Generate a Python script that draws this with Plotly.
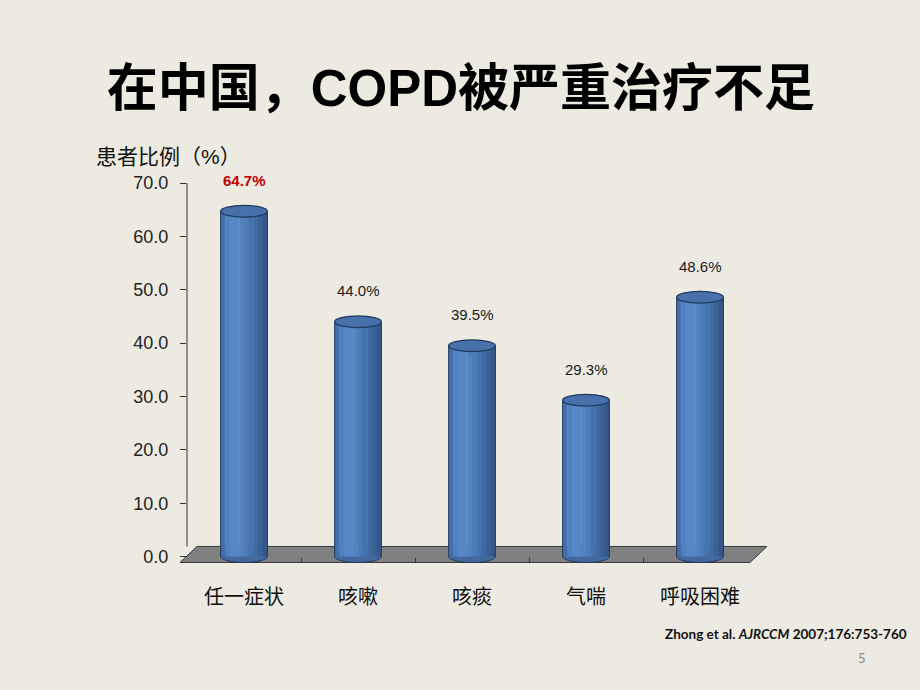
import plotly.graph_objects as go

categories = ["任一症状", "咳嗽", "咳痰", "气喘", "呼吸困难"]
values = [64.7, 44.0, 39.5, 29.3, 48.6]
value_labels = ["64.7%", "44.0%", "39.5%", "29.3%", "48.6%"]
y_ticks = [0, 10, 20, 30, 40, 50, 60, 70]

BG = "#edeae2"
FONT = "Liberation Sans, Noto Sans CJK SC, sans-serif"
EDGE = "#1f3a5f"

bar_w = 0.41
# stripes give the cylinder its shading, left to right
shades = ["#446fa9", "#5080c0", "#5888c8", "#5887c6", "#5483c0", "#4e7cb8",
          "#4773ad", "#4069a0", "#3a6195", "#34588a"]

fig = go.Figure()
sw = bar_w / len(shades)
for k, c in enumerate(shades):
    fig.add_trace(go.Bar(
        x=categories, y=values, width=sw * 1.08, offset=-bar_w / 2 + k * sw,
        marker=dict(color=c, line_width=0), hoverinfo="skip", showlegend=False,
    ))

shapes = []
# floor
shapes.append(dict(type="path", xref="paper", yref="y", layer="below",
                   path="M -0.0123,-1.1 L 0.0175,1.9 L 1.0175,1.9 L 0.9877,-1.1 Z",
                   fillcolor="#808080", line=dict(color="#3a3a3a", width=1)))
# y axis line on the back wall
shapes.append(dict(type="line", xref="paper", yref="y", x0=0, x1=0, y0=1.9, y1=70,
                   line=dict(color="#333333", width=1)))
ry = 1.1
for i, v in enumerate(values):
    shapes.append(dict(type="circle", xref="x", yref="y", layer="below",
                       x0=i - bar_w / 2, x1=i + bar_w / 2, y0=-ry, y1=ry,
                       fillcolor="#44699f", line=dict(color=EDGE, width=1)))
    for side in (-1, 1):
        shapes.append(dict(type="line", xref="x", yref="y",
                           x0=i + side * bar_w / 2, x1=i + side * bar_w / 2, y0=0, y1=v,
                           line=dict(color=EDGE, width=1)))
    shapes.append(dict(type="circle", xref="x", yref="y",
                       x0=i - bar_w / 2, x1=i + bar_w / 2, y0=v - ry, y1=v + ry,
                       fillcolor="#4871ab", line=dict(color=EDGE, width=1.2)))

annotations = []
for i, (v, t) in enumerate(zip(values, value_labels)):
    first = i == 0
    annotations.append(dict(
        x=i, y=v, xref="x", yref="y", text=t, showarrow=False, yshift=31,
        font=dict(family=FONT, size=15, color="#c00000" if first else "#1a1a1a",
                  weight="bold" if first else "normal"),
    ))

annotations += [
    dict(text="患者比例（%）", xref="paper", yref="paper", x=-0.163, y=1.069,
         xanchor="left", yanchor="middle", showarrow=False,
         font=dict(family=FONT, size=21, color="#111111")),
    dict(text="Zhong et al. <i>AJRCCM</i> 2007;176:753-760", xref="paper", yref="paper",
         x=1.267, y=-0.188, xanchor="right", yanchor="middle", showarrow=False,
         font=dict(family="Lato, Open Sans, sans-serif", size=13.5, color="#111111", weight="bold")),
    dict(text="5", xref="paper", yref="paper", x=1.184, y=-0.249,
         xanchor="center", yanchor="middle", showarrow=False,
         font=dict(family="Lato, sans-serif", size=13, color="#8c8c8c")),
]

fig.update_layout(
    width=920, height=690,
    paper_bgcolor=BG, plot_bgcolor=BG,
    margin=dict(l=187, r=163, t=183, b=127),
    barmode="overlay",
    title=dict(text="在中国，COPD被严重治疗不足", xref="container", yref="container",
               x=0.501, y=0.8725, xanchor="center", yanchor="middle",
               font=dict(family=FONT, size=51, color="#000000", weight="bold")),
    xaxis=dict(showgrid=False, showline=False, zeroline=False,
               ticks="inside", tickson="boundaries", ticklen=5, tickcolor="#333333",
               ticklabelstandoff=20,
               tickfont=dict(family=FONT, size=20, color="#111111")),
    yaxis=dict(range=[-1.2, 70], tickvals=y_ticks, tickformat=".1f",
               showgrid=False, showline=False, zeroline=False,
               ticks="outside", ticklen=6, tickcolor="#333333",
               ticklabelstandoff=8,
               tickfont=dict(family=FONT, size=18, color="#222222")),
    shapes=shapes,
    annotations=annotations,
)

fig.write_html("out.html", config={"displayModeBar": False},
               post_script="document.body.style.margin='0';")
